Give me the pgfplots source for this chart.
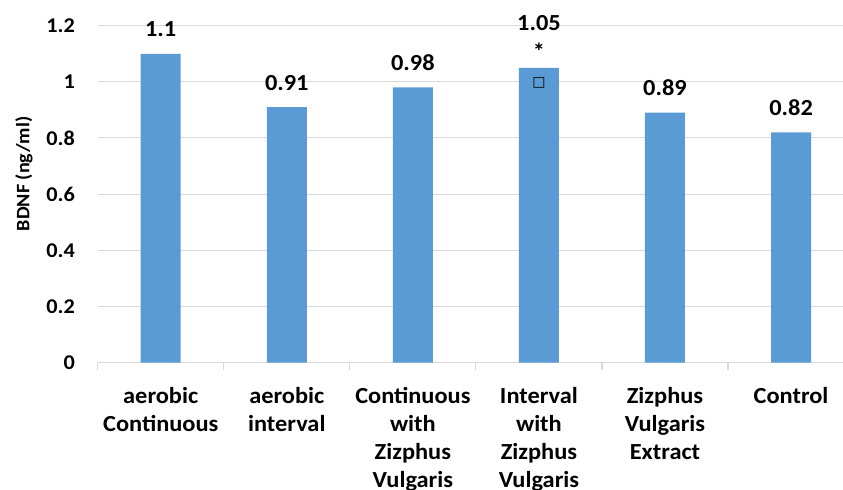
\documentclass[border=0pt]{standalone}
\usepackage{pgfplots}
\pgfplotsset{compat=1.18}
\usepackage{fontspec}
\setmainfont{Carlito}[FakeStretch=1.06]
\newfontfamily\dejavu{DejaVu Sans}
\definecolor{barblue}{HTML}{5B9BD5}
\definecolor{gridgray}{HTML}{D9D9D9}
\begin{document}
\begin{tikzpicture}
\begin{axis}[
  at={(0,0)}, anchor=south west,
  scale only axis, width=745.3bp, height=336.8bp,
  xmin=-0.5, xmax=5.412, ymin=0, ymax=1.2,
  axis x line*=bottom, axis y line*=left,
  x axis line style={draw=gridgray, line width=1.2bp, -},
  y axis line style={draw=none, -},
  ymajorgrids, grid style={draw=gridgray, line width=1bp},
  ytick={0,0.2,0.4,0.6,0.8,1,1.2},
  yticklabels={0,0.2,0.4,0.6,0.8,1,1.2},
  major y tick style={draw=none},
  xtick={0,1,2,3,4,5},
  xticklabels={{aerobic\\Continuous},{aerobic\\interval},{Continuous\\with\\Zizphus\\Vulgaris},{Interval\\with\\Zizphus\\Vulgaris},{Zizphus\\Vulgaris\\Extract},{Control}},
  major x tick style={draw=none},
  minor xtick={-0.5,0.5,1.5,2.5,3.5,4.5},
  minor x tick style={draw=gridgray, line width=1.2bp},
  minor tick length=7bp, tick align=outside,
  xticklabel style={align=center, font=\bfseries\fontsize{23bp}{28bp}\selectfont, anchor=north, yshift=-17bp},
  yticklabel style={font=\bfseries\fontsize{21bp}{24bp}\selectfont, anchor=east, xshift=-15bp},
  ylabel={BDNF (ng/ml)},
  ylabel style={font=\bfseries\fontsize{19bp}{22bp}\selectfont, at={(axis description cs:-0.0989,0.56)}, anchor=center},
]
\addplot[ybar, bar width=40bp, fill=barblue, draw=none,
  nodes near coords, point meta=explicit symbolic,
  every node near coord/.style={font=\bfseries\fontsize{23bp}{26bp}\selectfont, anchor=base, yshift=17bp, text=black}]
coordinates {
  (0,1.1) [1.1]
  (1,0.91) [0.91]
  (2,0.98) [0.98]
  (3,1.05) [\raisebox{20bp}{1.05}]
  (4,0.89) [0.89]
  (5,0.82) [0.82]
};
\node[font=\bfseries\fontsize{23bp}{26bp}\selectfont, anchor=base, yshift=8bp] at (axis cs:3,1.05) {*};
\node[font=\dejavu\bfseries\fontsize{14bp}{14bp}\selectfont, yshift=-15bp] at (axis cs:3,1.05) {□};
\end{axis}
\pgfresetboundingbox
\path[use as bounding box] (-97.7bp,-127.5bp) rectangle (745.3bp,362.5bp);
\end{tikzpicture}
\end{document}
